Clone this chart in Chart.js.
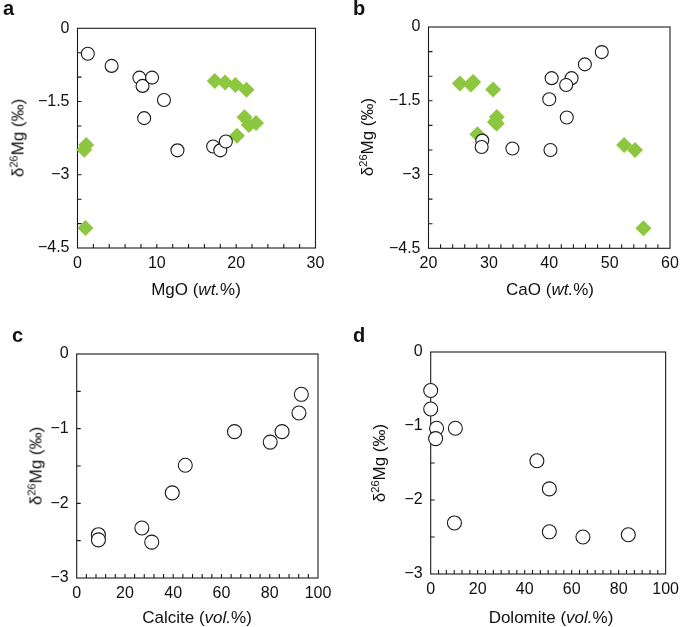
<!DOCTYPE html>
<html>
<head>
<meta charset="utf-8">
<script src="https://cdn.jsdelivr.net/npm/chart.js@4.4.1/dist/chart.umd.min.js"></script>
<style>
  body { margin: 0; background: #fff; font-family: "Liberation Sans", Arial, sans-serif; color: #111; }
  #fig { position: relative; width: 685px; height: 627px; overflow: hidden; }
  .panel { position: absolute; width: 342px; height: 313px; }
  .tag { position: absolute; font-weight: bold; font-size: 20px; line-height: 1; }
  .xt, .yt { position: absolute; font-size: 17px; line-height: 1; white-space: nowrap; }
  .xt { transform: translate(-50%, -50%); }
  .yt { transform: translate(-50%, -50%) rotate(-90deg); }
  sup { font-size: 11px; vertical-align: 6px; line-height: 0; }
</style>
</head>
<body>
<div id="fig">
  <div class="panel" style="left:0;top:0"><canvas id="chartA" width="342" height="313"></canvas></div>
  <div class="panel" style="left:343px;top:0"><canvas id="chartB" width="342" height="313"></canvas></div>
  <div class="panel" style="left:0;top:314px"><canvas id="chartC" width="342" height="313"></canvas></div>
  <div class="panel" style="left:343px;top:314px"><canvas id="chartD" width="342" height="313"></canvas></div>

  <div class="tag" style="left:3px;top:-2px">a</div>
  <div class="tag" style="left:353px;top:-2px">b</div>
  <div class="tag" style="left:12px;top:325px">c</div>
  <div class="tag" style="left:353px;top:325px">d</div>

  <div class="xt" style="left:196px;top:289px">MgO (<i>wt.</i>%)</div>
  <div class="xt" style="left:550px;top:289px">CaO (<i>wt.</i>%)</div>
  <div class="xt" style="left:197px;top:617px">Calcite (<i>vol.</i>%)</div>
  <div class="xt" style="left:551px;top:617px">Dolomite (<i>vol.</i>%)</div>

  <div class="yt" style="left:18px;top:138px">δ<sup>26</sup>Mg (‰)</div>
  <div class="yt" style="left:367px;top:137px">δ<sup>26</sup>Mg (‰)</div>
  <div class="yt" style="left:36px;top:466px">δ<sup>26</sup>Mg (‰)</div>
  <div class="yt" style="left:379px;top:463px">δ<sup>26</sup>Mg (‰)</div>
</div>

<script>
// panel a: d26Mg vs MgO
const mgoLimestone = [1.3, 4.3, 7.8, 8.2, 9.4, 10.9, 8.4, 12.6, 17.1, 18.0, 18.7];
const d26Limestone_a = [-0.52, -0.77, -1.01, -1.18, -1.01, -1.47, -1.84, -2.50, -2.42, -2.50, -2.32];
const mgoOther = [17.3, 18.6, 19.9, 21.3, 21.05, 21.6, 22.5, 20.1, 1.1, 0.85, 1.0];
const d26Other_a = [-1.08, -1.11, -1.16, -1.26, -1.82, -1.98, -1.94, -2.20, -2.39, -2.49, -4.09];

// panel b: d26Mg vs CaO
const caoLimestone = [48.7, 45.9, 40.4, 43.7, 42.8, 40.0, 42.9, 28.9, 28.8, 33.9, 40.2];
const d26Limestone_b = [-0.51, -0.76, -1.04, -1.04, -1.18, -1.47, -1.84, -2.31, -2.44, -2.47, -2.50];
const caoOther = [25.2, 27.4, 27.0, 30.7, 31.3, 31.0, 31.3, 28.1, 52.4, 54.2, 55.6];
const d26Other_b = [-1.15, -1.12, -1.17, -1.27, -1.83, -1.93, -1.96, -2.18, -2.40, -2.50, -4.09];

// panel c: d26Mg vs calcite
const calcite = [9, 9, 27.0, 31.1, 39.6, 45.0, 65.4, 80.2, 85.1, 92.1, 93.1];
const d26Calcite = [-2.42, -2.49, -2.33, -2.52, -1.86, -1.49, -1.04, -1.18, -1.04, -0.79, -0.54];

// panel d: d26Mg vs dolomite
const dolomite = [0, 0, 2.5, 2.1, 10.5, 45.2, 50.5, 10.1, 50.5, 64.8, 84.1];
const d26Dolomite = [-0.52, -0.77, -1.03, -1.17, -1.03, -1.47, -1.85, -2.31, -2.43, -2.50, -2.47];

const GREEN = "#8dc63f";
const INK = "#1a1a1a";

function pts(xs, ys) {
  return xs.map((x, i) => ({ x: x, y: ys[i] }));
}

function minusLabel(v) {
  return v === 0 ? "0" : (v < 0 ? "\u2212" : "") + Math.abs(v);
}

// box round the plot with small ticks pointing inwards
const framePlugin = {
  id: "frame",
  beforeDatasetsDraw(chart, args, opts) {
    const { ctx, chartArea: a } = chart;
    const x = chart.scales.x, y = chart.scales.y;
    ctx.save();
    ctx.strokeStyle = INK;
    ctx.lineWidth = 1.1;
    ctx.strokeRect(a.left, a.top, a.right - a.left, a.bottom - a.top);
    ctx.beginPath();
    let n = Math.round((x.max - x.min) / opts.xStep);
    for (let i = 1; i < n; i++) {
      const px = x.getPixelForValue(x.min + i * opts.xStep);
      ctx.moveTo(px, a.bottom);
      ctx.lineTo(px, a.bottom - 4);
    }
    n = Math.round((y.max - y.min) / opts.yStep);
    for (let i = 1; i < n; i++) {
      const py = y.getPixelForValue(y.min + i * opts.yStep);
      ctx.moveTo(a.left, py);
      ctx.lineTo(a.left + 4, py);
    }
    ctx.stroke();
    ctx.restore();
  }
};

function circles(data, r) {
  return {
    data: data,
    pointStyle: "circle",
    pointRadius: r,
    backgroundColor: "#fff",
    borderColor: INK,
    borderWidth: 1.1,
    clip: false,
    order: 0
  };
}

function diamonds(data) {
  return {
    data: data,
    pointStyle: "rectRot",
    pointRadius: 8,
    backgroundColor: GREEN,
    borderColor: GREEN,
    borderWidth: 0,
    clip: false,
    order: 1
  };
}

function makeChart(id, datasets, cfg) {
  return new Chart(document.getElementById(id), {
    type: "scatter",
    data: { datasets: datasets },
    options: {
      responsive: false,
      animation: false,
      events: [],
      layout: { padding: { left: 0, top: cfg.top, right: cfg.right, bottom: 0 } },
      plugins: {
        legend: { display: false },
        tooltip: { enabled: false },
        frame: { xStep: cfg.xMinor, yStep: cfg.yMinor }
      },
      scales: {
        x: {
          type: "linear",
          min: cfg.xMin, max: cfg.xMax,
          grid: { display: false, drawTicks: false },
          border: { display: false },
          ticks: {
            stepSize: cfg.xStep, padding: 6, color: "#111",
            font: { family: "'Liberation Sans', Arial, sans-serif", size: 16 },
            maxRotation: 0
          },
          afterFit(s) { s.height = cfg.xHeight; }
        },
        y: {
          type: "linear",
          min: cfg.yMin, max: 0,
          grid: { display: false, drawTicks: false },
          border: { display: false },
          ticks: {
            stepSize: cfg.yStep, padding: 8, color: "#111",
            font: { family: "'Liberation Sans', Arial, sans-serif", size: 16 },
            callback: minusLabel
          },
          afterFit(s) { s.width = cfg.yWidth; }
        }
      }
    },
    plugins: [framePlugin]
  });
}

makeChart("chartA",
  [circles(pts(mgoLimestone, d26Limestone_a), 6.5), diamonds(pts(mgoOther, d26Other_a))],
  { xMin: 0, xMax: 30, xStep: 10, xMinor: 2, yMin: -4.5, yStep: 1.5, yMinor: 0.5,
    top: 28.3, right: 26.5, yWidth: 77.5, xHeight: 65 });

makeChart("chartB",
  [circles(pts(caoLimestone, d26Limestone_b), 6.5), diamonds(pts(caoOther, d26Other_b))],
  { xMin: 20, xMax: 60, xStep: 10, xMinor: 2, yMin: -4.5, yStep: 1.5, yMinor: 0.5,
    top: 27, right: 15, yWidth: 85.5, xHeight: 64.7 });

makeChart("chartC",
  [circles(pts(calcite, d26Calcite), 7)],
  { xMin: 0, xMax: 100, xStep: 20, xMinor: 4, yMin: -3, yStep: 1, yMinor: 0.5,
    top: 40, right: 24, yWidth: 76.7, xHeight: 49 });

makeChart("chartD",
  [circles(pts(dolomite, d26Dolomite), 7)],
  { xMin: 0, xMax: 100, xStep: 20, xMinor: 10 / 3, yMin: -3, yStep: 1, yMinor: 0.5,
    top: 38, right: 13, yWidth: 87.7, xHeight: 53 });
</script>
</body>
</html>
